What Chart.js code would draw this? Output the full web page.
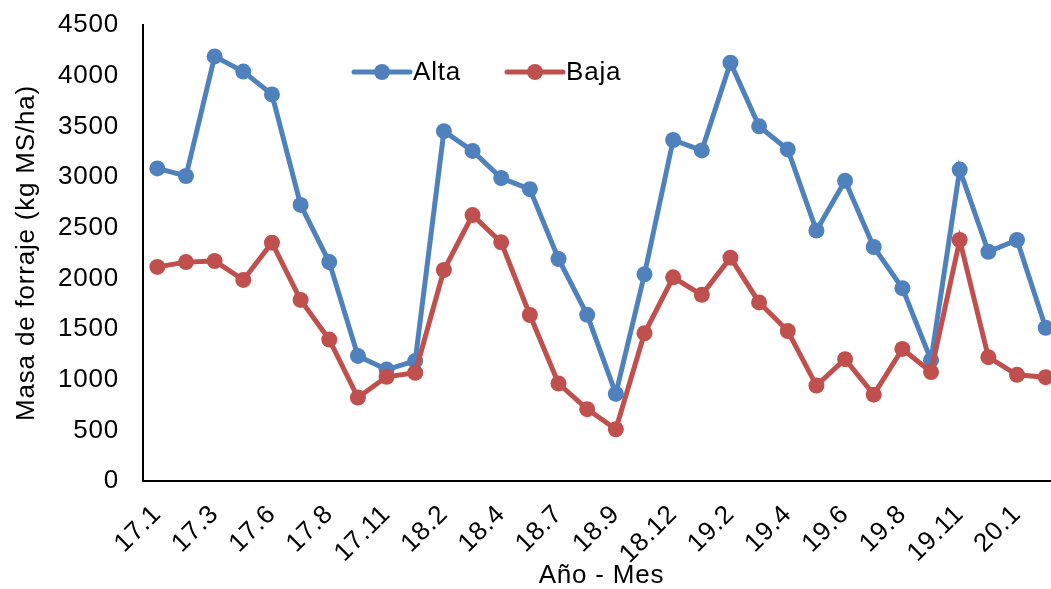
<!DOCTYPE html>
<html>
<head>
<meta charset="utf-8">
<script src="https://cdn.jsdelivr.net/npm/chart.js@4/dist/chart.umd.min.js"></script>
<style>
html, body { margin: 0; padding: 0; background: #fff; overflow: hidden; }
#clip { position: relative; width: 1051px; height: 589px; overflow: hidden; }
#c { display: block; }
</style>
</head>
<body>
<div id="clip"><canvas id="c" width="1060" height="589"></canvas></div>
<script>
const categories = ["17.1","17.2","17.3","17.5","17.6","17.7","17.8","17.10","17.11","18.1",
  "18.2","18.3","18.4","18.6","18.7","18.8","18.9","18.11","18.12","19.1",
  "19.2","19.3","19.4","19.5","19.6","19.7","19.8","19.10","19.11","19.12",
  "20.1","20.2"];
const alta = [3085,3010,4190,4040,3815,2724,2160,1234,1100,1185,
  3452,3257,2990,2880,2191,1640,860,2040,3365,3262,
  4128,3500,3272,2472,2962,2309,1903,1192,3073,2262,
  2378,1512];
const baja = [2113,2160,2171,1984,2352,1787,1396,823,1028,1068,
  2082,2624,2355,1638,962,709,511,1458,2010,1837,
  2204,1762,1480,942,1202,852,1303,1075,2378,1222,
  1048,1025];
const yTicks = { min: 0, max: 4500, step: 500 };
const seriesNames = ["Alta", "Baja"];
const colors = { alta: "#4F81BD", baja: "#C0504D" };

const FONT = "'Liberation Sans', Arial, sans-serif";
const FSIZE = 26;
const SPACING = '0.8px';

const spacingPlugin = {
  id: 'textSpacing',
  beforeUpdate(chart) { chart.ctx.letterSpacing = SPACING; },
  beforeDraw(chart) { chart.ctx.letterSpacing = SPACING; }
};

const legendPlugin = {
  id: 'inlineLegend',
  afterDatasetsDraw(chart) {
    const ctx = chart.ctx;
    const items = [
      { label: seriesNames[0], color: colors.alta, x: 354 },
      { label: seriesNames[1], color: colors.baja, x: 507 }
    ];
    const y = 72;
    ctx.save();
    items.forEach(it => {
      ctx.strokeStyle = it.color;
      ctx.lineWidth = 5;
      ctx.lineCap = 'round';
      ctx.beginPath();
      ctx.moveTo(it.x, y);
      ctx.lineTo(it.x + 56, y);
      ctx.stroke();
      ctx.fillStyle = it.color;
      ctx.beginPath();
      ctx.arc(it.x + 28, y, 8, 0, Math.PI * 2);
      ctx.fill();
      ctx.fillStyle = '#000';
      ctx.font = FSIZE + "px " + FONT;
      ctx.letterSpacing = SPACING;
      ctx.textBaseline = 'middle';
      ctx.textAlign = 'left';
      ctx.fillText(it.label, it.x + 59, y + 1);
    });
    ctx.restore();
  }
};

new Chart(document.getElementById('c'), {
  type: 'line',
  data: {
    labels: categories,
    datasets: [
      { label: seriesNames[0], data: alta, borderColor: colors.alta, backgroundColor: colors.alta,
        borderWidth: 5, pointRadius: 8, pointHoverRadius: 8, pointBorderWidth: 0, tension: 0, order: 1 },
      { label: seriesNames[1], data: baja, borderColor: colors.baja, backgroundColor: colors.baja,
        borderWidth: 5, pointRadius: 8, pointHoverRadius: 8, pointBorderWidth: 0, tension: 0, order: 0 }
    ]
  },
  options: {
    responsive: false,
    devicePixelRatio: 1,
    animation: false,
    events: [],
    layout: { autoPadding: false, padding: { top: 25, right: 0, left: 0, bottom: 0 } },
    plugins: { legend: { display: false }, tooltip: { enabled: false } },
    scales: {
      x: {
        offset: true,
        grid: { display: false, drawTicks: false },
        border: { display: true, color: '#000', width: 2 },
        ticks: {
          autoSkip: false, maxRotation: 45, minRotation: 45, padding: 18,
          color: '#000', font: { family: FONT, size: FSIZE },
          callback: function(v, i) { return i % 2 === 0 ? categories[i] : ''; }
        },
        title: { display: true, text: 'Año - Mes', color: '#000',
          font: { family: FONT, size: FSIZE, lineHeight: 1.0 }, padding: { top: 0, bottom: 0 } },
        afterFit(scale) { scale.height = 589 - 481; scale.paddingLeft = 0; scale.paddingRight = 0; }
      },
      y: {
        min: yTicks.min, max: yTicks.max,
        grid: { display: false, drawTicks: false },
        border: { display: true, color: '#000', width: 2 },
        ticks: { stepSize: yTicks.step, padding: 24, color: '#000', font: { family: FONT, size: FSIZE },
          callback: function(v) { return String(v); } },
        title: { display: true, text: 'Masa de forraje (kg MS/ha)', color: '#000',
          font: { family: FONT, size: FSIZE, lineHeight: 1.2 }, padding: { top: 11, bottom: 0 } },
        afterFit(scale) { scale.width = 143; scale.paddingTop = 0; scale.paddingBottom = 0; }
      }
    }
  },
  plugins: [spacingPlugin, legendPlugin]
});
</script>
</body>
</html>
